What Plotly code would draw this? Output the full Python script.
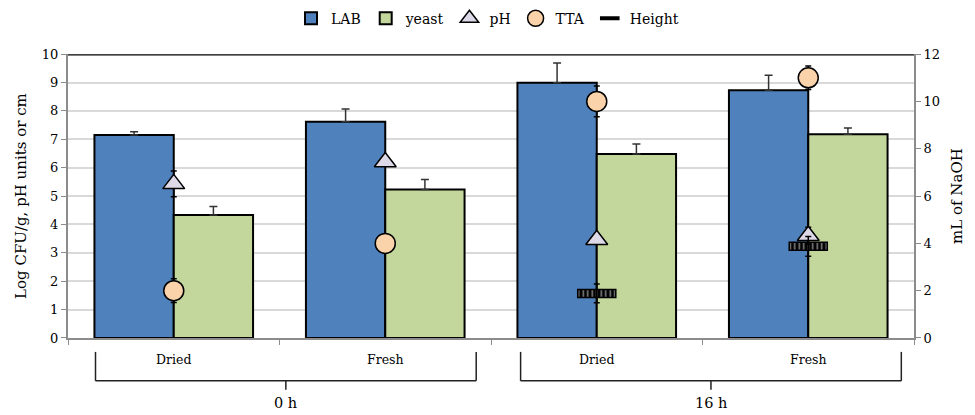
import plotly.graph_objects as go

# Samples: Dried/Fresh sourdough at 0 h and 16 h of fermentation
groups = ["0 h", "16 h"]
samples = ["Dried", "Fresh", "Dried", "Fresh"]
x_pos = [0, 1, 2, 3]

# Log CFU/g
lab = [7.15, 7.62, 8.99, 8.73]
lab_err = [0.12, 0.45, 0.70, 0.53]
yeast = [4.33, 5.23, 6.48, 7.18]
yeast_err = [0.30, 0.35, 0.35, 0.22]

# pH units
ph = [5.43, 6.2, 3.46, 3.60]
ph_err = [0.45, 0.15, 0.15, 0.30]

# TTA, mL of NaOH (right axis)
tta = [2.0, 4.0, 10.0, 11.0]
tta_err = [0.5, 0.3, 0.65, 0.5]

# Dough height, cm (only measured after fermentation)
height = [None, None, 1.57, 3.23]
height_err = [0, 0, 0.33, 0.35]

FONT = "DejaVu Serif"
BLUE = "#4F81BD"
GREEN = "#C3D69B"
LAVENDER = "#DDD9E8"
PEACH = "#FAD3AA"

fig = go.Figure()

fig.add_trace(go.Bar(
    x=x_pos, y=lab, name="LAB", marker=dict(color=BLUE, line=dict(color="black", width=2)),
    error_y=dict(type="data", array=lab_err, arrayminus=[0] * 4, symmetric=False,
                 color="#333333", thickness=1.5, width=4),
))
fig.add_trace(go.Bar(
    x=x_pos, y=yeast, name="yeast", marker=dict(color=GREEN, line=dict(color="black", width=2)),
    error_y=dict(type="data", array=yeast_err, arrayminus=[0] * 4, symmetric=False,
                 color="#333333", thickness=1.5, width=4),
))

# height markers: small hatched black bars centred on each value
H_HALF = 0.14   # half thickness of the marker, in cm
H_W = 0.18      # marker width, in category units
h_x = [xp for xp, h in zip(x_pos, height) if h is not None]
h_val = [h for h in height if h is not None]
fig.add_trace(go.Bar(
    x=h_x, y=[2 * H_HALF] * len(h_val), base=[h - H_HALF for h in h_val],
    width=H_W, offset=-H_W / 2, showlegend=False, hoverinfo="skip",
    marker=dict(color="black", line=dict(color="black", width=1.5),
                pattern=dict(shape="|", fgcolor="white", bgcolor="black", size=4.5, solidity=0.35,
                             fillmode="overlay")),
))

fig.add_trace(go.Scatter(
    x=x_pos, y=ph, name="pH", mode="markers",
    marker=dict(symbol="triangle-up", size=19, color=LAVENDER, line=dict(color="black", width=1.5)),
    error_y=dict(type="data", array=ph_err, color="black", thickness=1.5, width=3),
))

fig.add_trace(go.Scatter(
    x=x_pos, y=tta, name="TTA", mode="markers", yaxis="y2",
    marker=dict(symbol="circle", size=20, color=PEACH, line=dict(color="black", width=1.5)),
    error_y=dict(type="data", array=tta_err, color="black", thickness=1.5, width=3),
))

# height error bars and legend entry
fig.add_trace(go.Scatter(
    x=x_pos, y=height, name="Height", mode="markers",
    marker=dict(symbol="line-ew", size=14, color="black", line=dict(color="black", width=4),
                opacity=0),
    error_y=dict(type="data", array=height_err, color="black", thickness=1.5, width=3),
    showlegend=False,
))
fig.add_trace(go.Scatter(
    x=[None], y=[None], name="Height", mode="markers",
    marker=dict(symbol="line-ew", size=14, color="black", line=dict(color="black", width=4)),
))

# plot-area top border
fig.add_shape(type="line", xref="paper", yref="y", x0=0, x1=1, y0=10, y1=10,
              line=dict(color="black", width=2.5))

# sample labels and time-group brackets under the axis
Y_LABEL = -0.077
Y_TOP, Y_BOT, Y_TICK = -0.049, -0.151, -0.182
Y_GROUP = -0.228
for xp, s in zip(x_pos, samples):
    fig.add_annotation(x=xp, y=Y_LABEL, xref="x", yref="paper", text=s, showarrow=False,
                       font=dict(family=FONT, size=12.5, color="black"), yanchor="middle")

brackets = [(-0.37, 1.43), (1.64, 3.44)]
for (b0, b1), g in zip(brackets, groups):
    mid = (b0 + b1) / 2
    line = dict(color="#222222", width=1.5)
    fig.add_shape(type="line", xref="x", yref="paper", x0=b0, x1=b0, y0=Y_TOP, y1=Y_BOT, line=line)
    fig.add_shape(type="line", xref="x", yref="paper", x0=b1, x1=b1, y0=Y_TOP, y1=Y_BOT, line=line)
    fig.add_shape(type="line", xref="x", yref="paper", x0=b0, x1=b1, y0=Y_BOT, y1=Y_BOT, line=line)
    fig.add_shape(type="line", xref="x", yref="paper", x0=mid, x1=mid, y0=Y_BOT, y1=Y_TICK, line=line)
    fig.add_annotation(x=mid, y=Y_GROUP, xref="x", yref="paper", text=g, showarrow=False,
                       font=dict(family=FONT, size=14.5, color="black"), yanchor="middle")

fig.update_layout(
    width=975, height=415,
    margin=dict(l=68, r=60, t=53, b=77),
    paper_bgcolor="white", plot_bgcolor="white",
    font=dict(family=FONT, size=13, color="black"),
    barmode="group", bargap=0.25, bargroupgap=0,
    showlegend=True,
    legend=dict(orientation="h", x=0.5, xanchor="center", xref="container",
                y=0.955, yanchor="middle", yref="container",
                font=dict(family=FONT, size=14), itemwidth=30,
                tracegroupgap=0, bgcolor="rgba(0,0,0,0)"),
    xaxis=dict(range=[-0.5, 3.5], tickvals=[-0.5, 0.5, 1.5, 2.5, 3.5], ticktext=[""] * 5,
               ticks="outside", ticklen=5, tickcolor="#8c8c8c", showgrid=False, zeroline=False,
               showline=True, linecolor="#8c8c8c", linewidth=2),
    yaxis=dict(range=[0, 10], dtick=1, showgrid=True, gridcolor="#d9d9d9", gridwidth=1.5,
               zeroline=False, showline=True, linecolor="#8c8c8c", linewidth=2,
               ticks="outside", ticklen=5, tickcolor="#8c8c8c",
               title=dict(text="Log CFU/g, pH units or cm", font=dict(family=FONT, size=15), standoff=12),
               tickfont=dict(family=FONT, size=13)),
    yaxis2=dict(range=[0, 12], dtick=2, overlaying="y", side="right", showgrid=False,
                zeroline=False, showline=True, linecolor="#8c8c8c", linewidth=2,
                ticks="outside", ticklen=5, tickcolor="#8c8c8c",
                title=dict(text="mL of NaOH", font=dict(family=FONT, size=15), standoff=12),
                tickfont=dict(family=FONT, size=13)),
)

fig.write_html("out.html")
